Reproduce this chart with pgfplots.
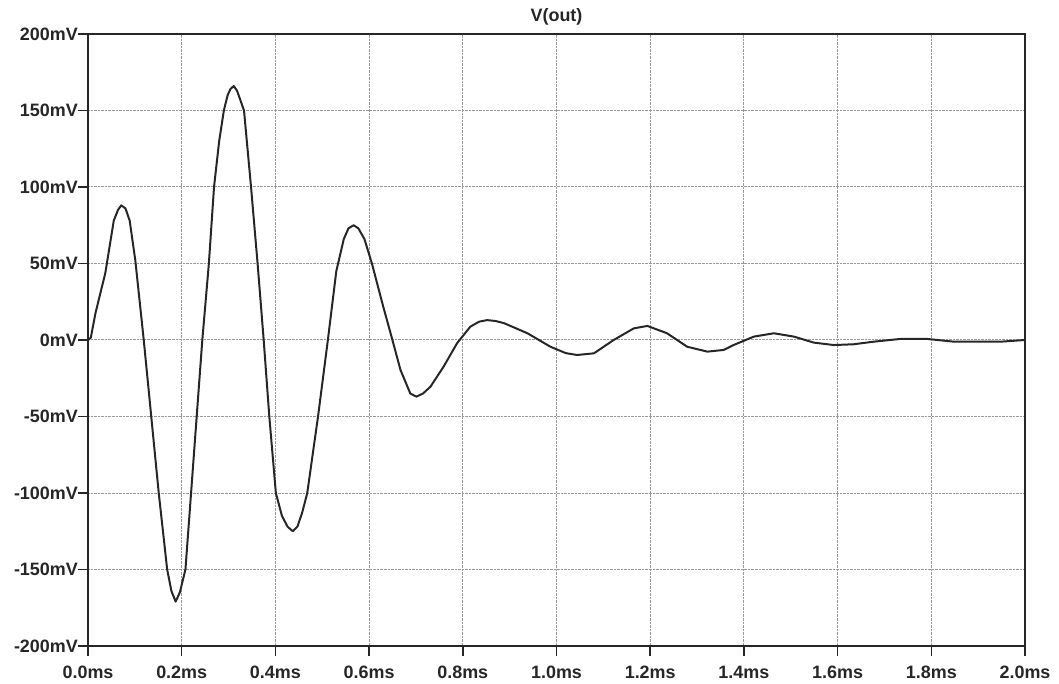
\documentclass[border=0pt]{standalone}
\usepackage{fontspec}
\setmainfont{Liberation Sans}
\usepackage{pgfplots}
\pgfplotsset{compat=1.18}
\begin{document}
\begin{tikzpicture}
\begin{axis}[
  scale only axis, width=937bp, height=612bp,
  xmin=0, xmax=2, ymin=-200, ymax=200,
  xtick={0,0.2,0.4,0.6,0.8,1.0,1.2,1.4,1.6,1.8,2.0},
  xticklabels={0.0ms,0.2ms,0.4ms,0.6ms,0.8ms,1.0ms,1.2ms,1.4ms,1.6ms,1.8ms,2.0ms},
  ytick={-200,-150,-100,-50,0,50,100,150,200},
  yticklabels={-200mV,-150mV,-100mV,-50mV,0mV,50mV,100mV,150mV,200mV},
  grid=major,
  major grid style={black!40, densely dotted, line width=1pt},
  axis line style={black!85, line width=1.8pt},
  tick style={black!85, line width=1.5pt},
  tick align=outside, major tick length=10bp,
  xtick pos=lower, ytick pos=left,
  tick label style={font=\fontsize{18}{20}\selectfont\bfseries, black!85},
  yticklabel style={inner xsep=0bp},
  xticklabel style={anchor=base, text height=13bp, text depth=0pt, yshift=-22bp},
  title={V(out)},
  title style={at={(0.5,1)}, anchor=base, inner sep=0pt, yshift=7bp, font=\fontsize{18}{20}\selectfont\bfseries, black!85},
]
\addplot[black!85, line width=2pt, line join=round] coordinates {
(0,0) (0.006,1.5) (0.016,17.6) (0.037,43.8) (0.055,78) (0.064,85) (0.071,88) (0.080,86) (0.089,78) (0.101,52)
(0.119,0) (0.135,-50) (0.151,-100) (0.169,-150) (0.178,-164) (0.187,-171) (0.196,-165) (0.208,-150)
(0.220,-100) (0.232,-50) (0.244,0) (0.258,50) (0.269,100) (0.280,130) (0.290,150) (0.298,160) (0.304,164)
(0.311,166) (0.318,163) (0.325,157) (0.333,150) (0.348,100) (0.362,50) (0.375,0) (0.387,-50) (0.401,-100)
(0.414,-115) (0.426,-122) (0.437,-125) (0.447,-122) (0.457,-113) (0.468,-100) (0.491,-50) (0.512,0)
(0.530,45) (0.546,66) (0.556,73) (0.567,75) (0.577,73) (0.590,66) (0.606,50) (0.630,22) (0.648,2) (0.667,-19.6)
(0.688,-35) (0.701,-37) (0.715,-35) (0.731,-30.5) (0.759,-17.4) (0.788,-2) (0.816,8.7) (0.835,12) (0.852,13)
(0.870,12.4) (0.888,11) (0.938,4.4) (0.987,-4.4) (1.020,-8.6) (1.044,-9.8) (1.080,-8.7) (1.122,0) (1.165,7.6)
(1.194,9.2) (1.236,4.4) (1.279,-4.4) (1.322,-7.6) (1.357,-6.5) (1.378,-3.3) (1.421,2.2)
(1.464,4.4) (1.507,2.2) (1.549,-1.7) (1.592,-3.3) (1.634,-2.8) (1.677,-1.1) (1.734,0.7)
(1.791,0.7) (1.848,-1.1) (1.948,-1.1) (2.0,0)
};
\end{axis}
\path[use as bounding box] ([shift={(-88bp,-38bp)}]current axis.south west) rectangle ([shift={(34bp,34bp)}]current axis.north east);
\end{tikzpicture}
\end{document}
